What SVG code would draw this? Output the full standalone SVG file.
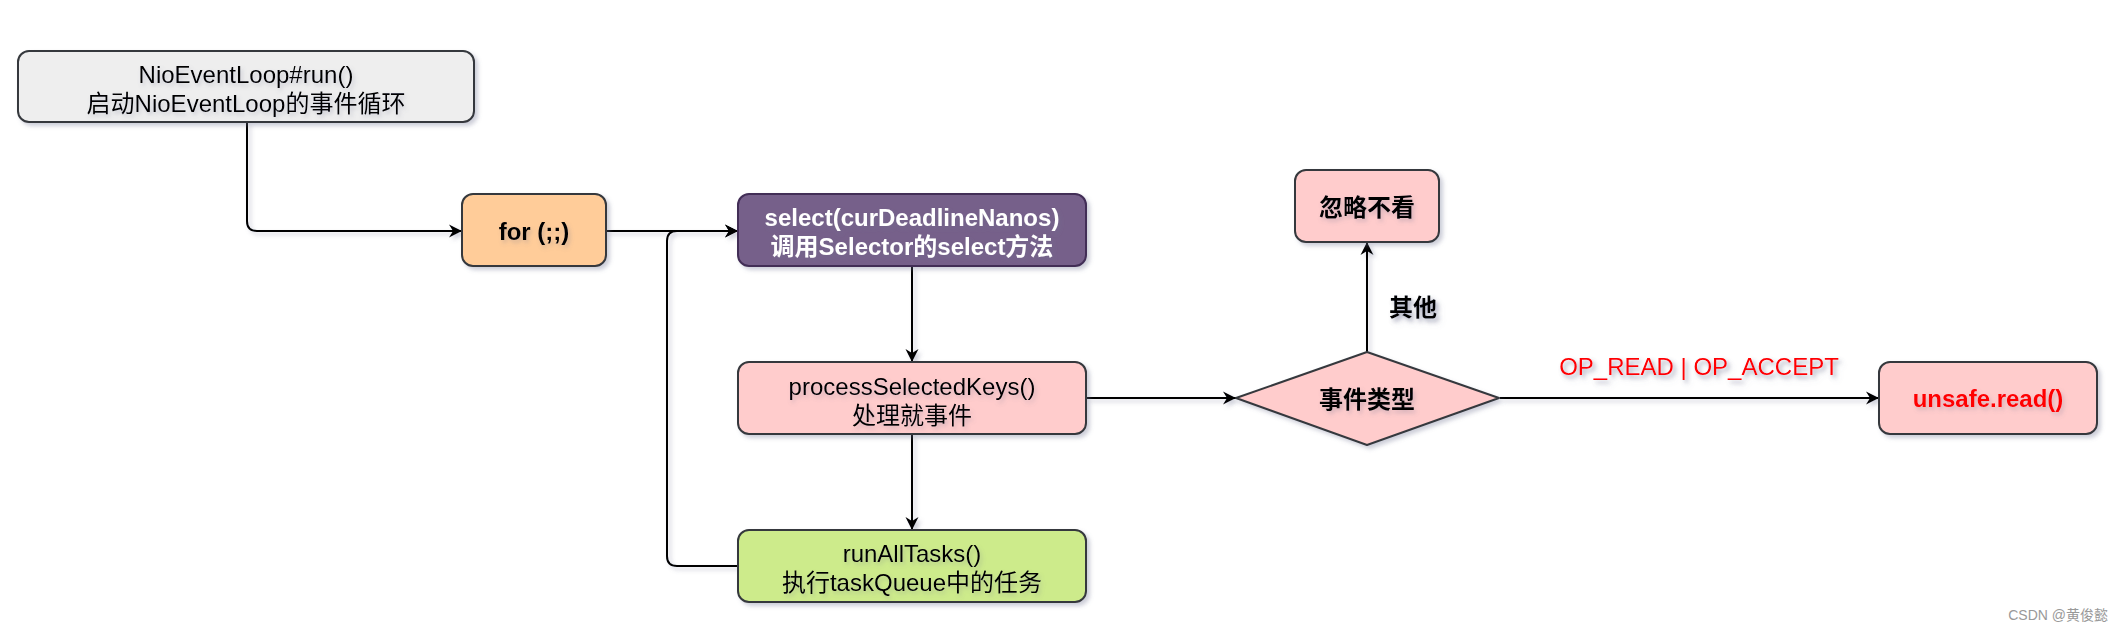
<svg xmlns="http://www.w3.org/2000/svg" width="2124" height="633" viewBox="0 0 2124 633">
<style>
  .box { stroke: #36393d; stroke-width: 2; }
  .t { font-family: "Liberation Sans", "Noto Sans CJK SC", sans-serif; font-size: 24px; text-anchor: middle; fill: #000; }
  .b { font-weight: bold; }
  .red { fill: #ff0000; }
  .white { fill: #ffffff; }
  .edge { fill: none; stroke: #000; stroke-width: 2; }
</style>
<defs>
  <filter id="sh" x="-10%" y="-10%" width="130%" height="140%">
    <feDropShadow dx="3" dy="3" stdDeviation="2" flood-color="#6d7290" flood-opacity="0.35"/>
  </filter>
  <filter id="tsh" x="-10%" y="-30%" width="130%" height="180%">
    <feDropShadow dx="2" dy="3" stdDeviation="2" flood-color="#6d7290" flood-opacity="0.3"/>
  </filter>
  <marker id="arr" markerUnits="userSpaceOnUse" markerWidth="14" markerHeight="14" viewBox="0 0 14 14" refX="13" refY="7" orient="auto">
    <path d="M0,0.5 L13,7 L0,13.5 L4,7 z" fill="#000"/>
  </marker>
</defs>
<rect width="2124" height="633" fill="#ffffff"/>

<g id="connectors" filter="url(#sh)">
  <path class="edge" d="M247,122 V221 Q247,231 257,231 H462" marker-end="url(#arr)"/>
  <path class="edge" d="M606,231 H738" marker-end="url(#arr)"/>
  <path class="edge" d="M738,566 H677 Q667,566 667,556 V241 Q667,231 677,231 H738" marker-end="url(#arr)"/>
  <path class="edge" d="M912,267 V362" marker-end="url(#arr)"/>
  <path class="edge" d="M912,434 V530" marker-end="url(#arr)"/>
  <path class="edge" d="M1087,398 H1236" marker-end="url(#arr)"/>
  <path class="edge" d="M1367,352 V242" marker-end="url(#arr)"/>
  <path class="edge" d="M1500,398 H1879" marker-end="url(#arr)"/>
  <text class="t b" x="1413" y="316" filter="url(#tsh)">其他</text>
  <text class="t red" x="1699" y="375" filter="url(#tsh)">OP_READ | OP_ACCEPT</text>
</g>

<g id="node-run">
  <rect class="box" x="18" y="51" width="456" height="71" rx="11" fill="#eeeeee" filter="url(#sh)"/>
  <text class="t" x="246" y="83" filter="url(#tsh)">NioEventLoop#run()</text>
  <text class="t" x="246" y="112" filter="url(#tsh)">启动NioEventLoop的事件循环</text>
</g>

<g id="node-for">
  <rect class="box" x="462" y="194" width="144" height="72" rx="11" fill="#ffcc99" filter="url(#sh)"/>
  <text class="t b" x="534" y="240" filter="url(#tsh)">for (;;)</text>
</g>

<g id="node-select">
  <rect x="738" y="194" width="348" height="72" rx="11" fill="#76608a" stroke="#432d57" stroke-width="2" filter="url(#sh)"/>
  <text class="t b white" x="912" y="226" filter="url(#tsh)">select(curDeadlineNanos)</text>
  <text class="t b white" x="912" y="255" filter="url(#tsh)">调用Selector的select方法</text>
</g>

<g id="node-process">
  <rect class="box" x="738" y="362" width="348" height="72" rx="11" fill="#ffcccc" filter="url(#sh)"/>
  <text class="t" x="912" y="395" filter="url(#tsh)">processSelectedKeys()</text>
  <text class="t" x="912" y="424" filter="url(#tsh)">处理就事件</text>
</g>

<g id="node-runall">
  <rect class="box" x="738" y="530" width="348" height="72" rx="11" fill="#cdeb8b" filter="url(#sh)"/>
  <text class="t" x="912" y="562" filter="url(#tsh)">runAllTasks()</text>
  <text class="t" x="912" y="591" filter="url(#tsh)">执行taskQueue中的任务</text>
</g>

<g id="node-type">
  <path class="box" d="M1367,352 L1499,398 L1367,445 L1236,398 Z" stroke-linejoin="round" fill="#ffcccc" filter="url(#sh)"/>
  <text class="t b" x="1367" y="408" filter="url(#tsh)">事件类型</text>
</g>

<g id="node-ignore">
  <rect class="box" x="1295" y="170" width="144" height="72" rx="11" fill="#ffcccc" filter="url(#sh)"/>
  <text class="t b" x="1367" y="216" filter="url(#tsh)">忽略不看</text>
</g>

<g id="node-read">
  <rect class="box" x="1879" y="362" width="218" height="72" rx="11" fill="#ffcccc" filter="url(#sh)"/>
  <text class="t b red" x="1988" y="407" filter="url(#tsh)">unsafe.read()</text>
</g>

<text x="2108" y="620" font-family="Liberation Sans, Noto Sans CJK SC, sans-serif" font-size="14" fill="#999999" text-anchor="end">CSDN @黄俊懿</text>
</svg>
